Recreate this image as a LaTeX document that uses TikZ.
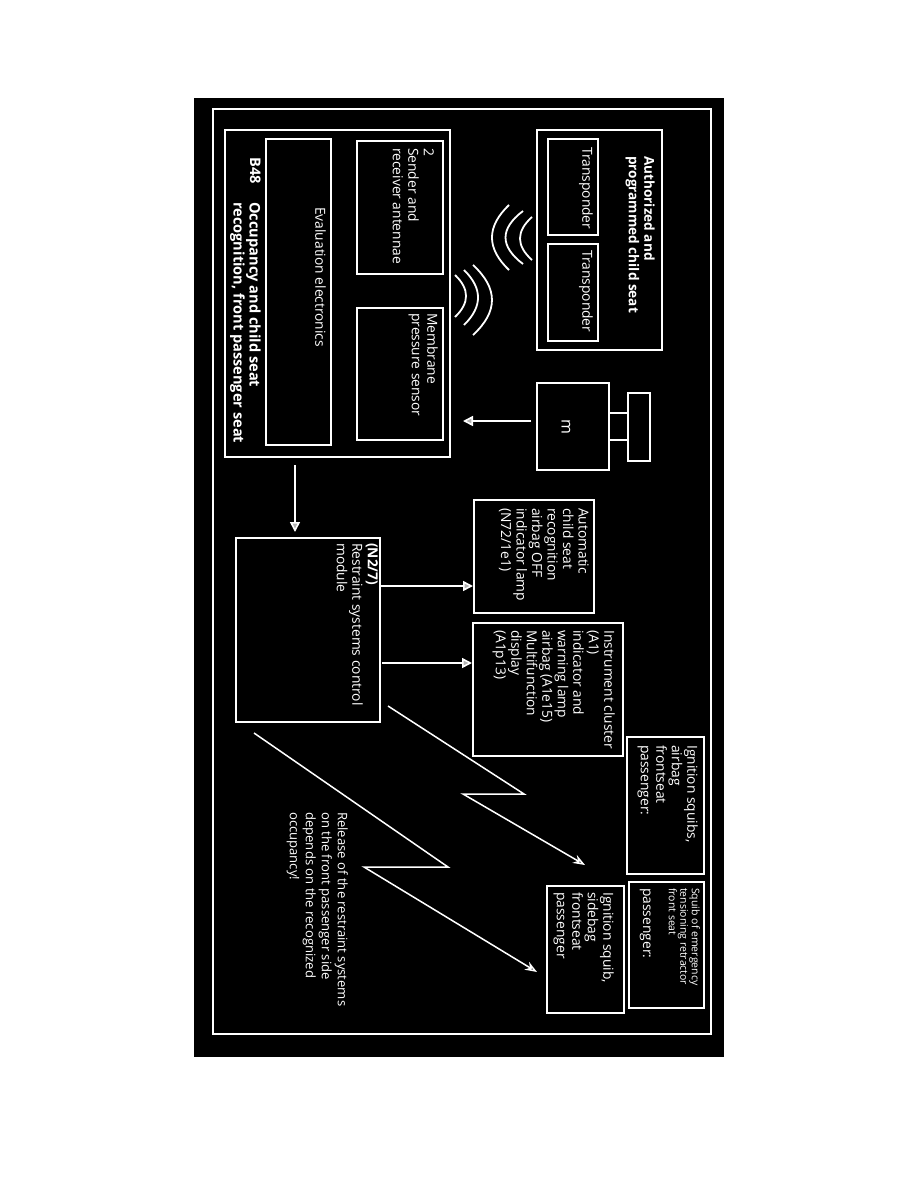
\documentclass[tikz,border=0pt]{standalone}
\usepackage{fontspec}
\setmainfont{Open Sans}
\usetikzlibrary{arrows.meta,fit}
\begin{document}
\begin{tikzpicture}[x=1pt,y=-1pt,
  box/.style={draw=white, line width=1.6pt, inner sep=0pt},
  thinbox/.style={box, line width=1.3pt},
  txt/.style={rotate=-90, anchor=north west, inner sep=0pt, align=left, text=white, font=\fontsize{13.8}{15.5}\selectfont},
  bt/.style={font=\fontsize{13.6}{15.5}\selectfont\bfseries},
  bigbt/.style={font=\fontsize{14.6}{16}\selectfont\bfseries},
  arr/.style={draw=white, line width=1.6pt, -{Triangle[length=10pt, width=10pt, fill=gray!60]}},
  bolt/.style={draw=white, line width=1.5pt, line join=miter, -{Stealth[open, length=12pt, width=9pt]}},
  wave/.style={draw=white, line width=1.8pt}]
\useasboundingbox (0,0) rectangle (918,1188);
\fill[white] (0,0) rectangle (918,1188);
\fill[black] (194,98) rectangle (724,1057);
\node[box, line width=1.2pt, fit={(213,109)(711,1034)}] (frame) {};
% boxes
\node[box, fit={(225,130)(450,457)}] (b48) {};
\node[thinbox, fit={(266,139)(331,445)}] (eval) {};
\node[thinbox, fit={(357,141)(443,274)}] (sender) {};
\node[thinbox, fit={(357,308)(443,440)}] (membrane) {};
\node[box, fit={(537,130)(662,350)}] (seat) {};
\node[thinbox, fit={(548,139)(598,235)}] (tp1) {};
\node[thinbox, fit={(548,244)(598,341)}] (tp2) {};
\node[box, fit={(537,383)(609,470)}] (mbox) {};
\node[box, fit={(628,393)(650,461)}] (mrect) {};
\node[box, fit={(236,538)(380,722)}] (n27) {};
\node[box, fit={(474,500)(594,613)}] (auto) {};
\node[box, fit={(473,623)(623,756)}] (instr) {};
\node[box, fit={(627,737)(704,874)}] (squibs) {};
\node[box, fit={(629,882)(704,1008)}] (retract) {};
\node[box, fit={(547,886)(624,1013)}] (sidebag) {};
% weight links
\draw[box] (mbox.east |- 0,413) -- (mrect.west |- 0,413);
\draw[box] (mbox.east |- 0,440) -- (mrect.west |- 0,440);
% arrows
\coordinate (wS) at (531,421); \coordinate (wE) at (463,421);
\coordinate (bS) at (295,465); \coordinate (bE) at (295,532);
\coordinate (c1S) at (381,586); \coordinate (c1E) at (473,586);
\coordinate (c2S) at (382,663); \coordinate (c2E) at (472,663);
\draw[arr] (wS) -- (wE);
\draw[arr] (bS) -- (bE);
\draw[arr] (c1S) -- (c1E);
\draw[arr] (c2S) -- (c2E);
% lightning
\coordinate (z1a) at (388,706); \coordinate (z1b) at (524,794);
\coordinate (z1c) at (463,794); \coordinate (z1d) at (585,865);
\coordinate (z2a) at (254,733); \coordinate (z2b) at (448,867);
\coordinate (z2c) at (364,867); \coordinate (z2d) at (537,972);
\draw[bolt] (z1a) -- (z1b) -- (z1c) -- (z1d);
\draw[bolt] (z2a) -- (z2b) -- (z2c) -- (z2d);
% waves
\draw[wave] (509,205) .. controls (486.3,226.7) and (486.3,248.3) .. (509,270);
\draw[wave] (523,211) .. controls (499.7,228.7) and (499.7,246.3) .. (523,264);
\draw[wave] (532,217) .. controls (516,231.3) and (516,245.7) .. (532,260);
\draw[wave] (455,275) .. controls (469.7,289) and (469.7,303) .. (455,317);
\draw[wave] (464,270) .. controls (482.7,288.3) and (482.7,306.7) .. (464,325);
\draw[wave] (473,265) .. controls (498.3,288.3) and (498.3,311.7) .. (473,335);
% texts
\node[txt, bt] (tseat) at (655,156) {Authorized and\\programmed child seat};
\node[txt] (ttp1) at (593,147) {Transponder};
\node[txt] (ttp2) at (593,250) {Transponder};
\node[txt] (tsend) at (434,148) {2\\Sender and\\receiver antennae};
\node[txt] (tmem) at (438,313) {Membrane\\pressure sensor};
\node[txt] (teval) at (326,207) {Evaluation electronics};
\node[txt, bigbt] (tb48) at (261,157) {B48};
\node[txt, bigbt] (tocc) at (261,202) {Occupancy and child seat\\recognition, front passenger seat};
\node[rotate=-90, text=white, inner sep=0pt, font=\fontsize{16}{16}\selectfont] (tm) at (566,427) {m};
\node[txt] (tn27) at (378,543) {\textbf{(N2/7)}\\Restraint systems control\\module};
\node[txt] (tauto) at (589,508) {Automatic\\child seat\\recognition\\airbag OFF\\indicator lamp\\(N72/1e1)};
\node[txt] (tinstr) at (615,630) {Instrument cluster\\(A1)\\indicator and\\warning lamp\\airbag (A1e15)\\Multifunction\\display\\(A1p13)};
\node[txt] (tsquibs) at (698,745) {Ignition squibs,\\airbag\\frontseat\\passenger:};
\node[txt, font=\fontsize{10.5}{11.5}\selectfont] (tret) at (700,888) {Squib of emergency\\tensioning retractor\\front seat};
\node[txt, anchor=base west] (tret2) at (643,888) {passenger:};
\node[txt] (tside) at (614,892) {Ignition squib,\\sidebag\\frontseat\\passenger};
\node[txt, font=\fontsize{13.1}{16}\selectfont] (trel) at (348,812) {Release of the restraint systems\\on the front passenger side\\depends on the recognized\\occupancy!};
\end{tikzpicture}
\end{document}
